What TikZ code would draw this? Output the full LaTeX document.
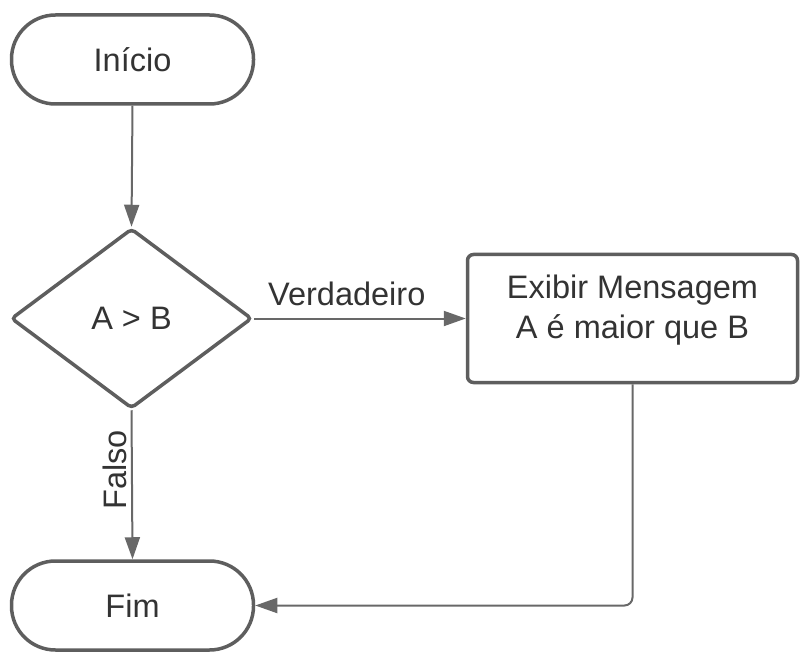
\documentclass[tikz,border=0pt]{standalone}
\usepackage{fontspec}
\setmainfont{Liberation Sans}
\usetikzlibrary{shapes.geometric,arrows.meta}
\definecolor{shapeline}{HTML}{5E5E5E}
\definecolor{connline}{HTML}{686868}
\definecolor{txt}{HTML}{333333}
\begin{document}
\begin{tikzpicture}[x=1pt,y=-1pt,
  basefont/.style={text=txt,font=\fontsize{32.5}{40}\selectfont},
  term/.style={basefont,draw=shapeline,fill=white,line width=3.5pt,rounded corners=44pt,
    minimum width=242pt,minimum height=89pt,inner sep=0pt},
  decision/.style={basefont,diamond,draw=shapeline,fill=white,line width=3.5pt,rounded corners=4pt,
    minimum width=241pt,minimum height=180pt,inner sep=0pt},
  procbox/.style={draw=shapeline,fill=white,line width=3.5pt,rounded corners=6pt,
    minimum width=330pt,minimum height=128pt,inner sep=0pt},
  conn/.style={draw=connline,line width=2pt,-{Triangle[length=22pt,width=15pt]}},
  lbl/.style={basefont,inner sep=0pt}
]
\useasboundingbox (0,0) rectangle (800,652);
\node[term] (inicio) at (132.5,59.5) {Início};
\node[decision] (dec) at (131.5,318.5) {A > B};
\node[procbox] (box) at (632.5,318.5) {};
\node[basefont,align=center] (msg) at (632.5,310) {Exibir Mensagem\\A é maior que B};
\node[term] (fim) at (132.5,605.5) {Fim};
\draw[conn] (inicio.south) -- (dec.north);
\draw[conn] (dec.east) -- node[lbl,anchor=base,yshift=13pt,xshift=-13pt] {Verdadeiro} (box.west);
\draw[conn] (dec.south) -- node[lbl,rotate=90,anchor=base,yshift=5pt,pos=0.4] {Falso} (fim.north);
\draw[conn,rounded corners=8pt] (box.south) |- (fim.east);
\end{tikzpicture}
\end{document}
